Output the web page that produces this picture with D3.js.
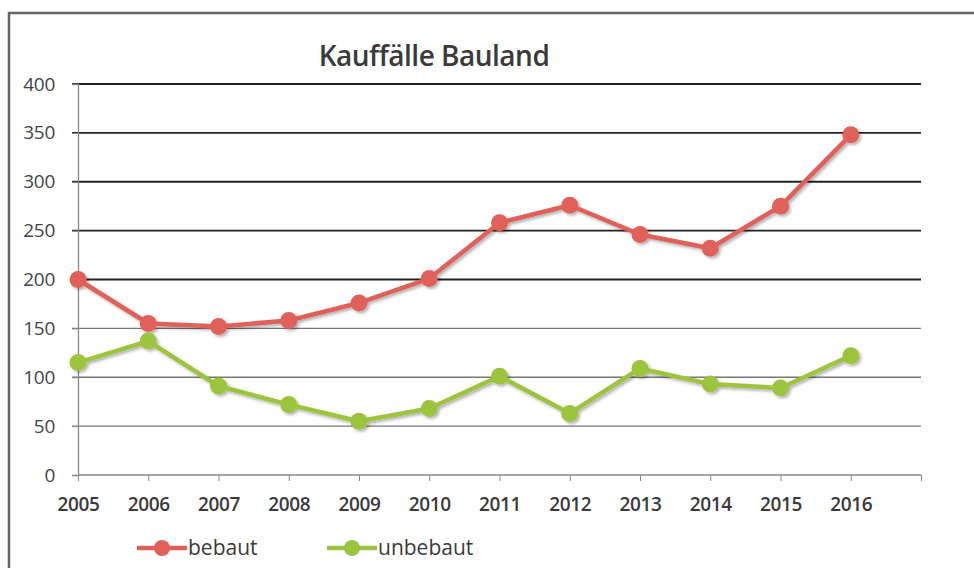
<!DOCTYPE html>
<html>
<head>
<meta charset="utf-8">
<script src="https://cdn.jsdelivr.net/npm/d3@7"></script>
<style>
  body { margin: 0; background: #fff; }
  svg { display: block; font-family: "Open Sans", "DejaVu Sans", sans-serif; }
</style>
</head>
<body>
<svg width="974" height="568"></svg>
<script>
var years = [2005, 2006, 2007, 2008, 2009, 2010, 2011, 2012, 2013, 2014, 2015, 2016];
var bebaut = [200, 155, 152, 158, 176, 201, 258, 276, 246, 232, 275, 348];
var unbebaut = [115, 137, 91, 72, 55, 68, 101, 63, 109, 93, 89, 122];
var yTicks = [0, 50, 100, 150, 200, 250, 300, 350, 400];
var seriesNames = ["bebaut", "unbebaut"];
var colors = ["#e0605a", "#9cc43e"];

var svg = d3.select("svg");
var margin = {top: 84, right: 53, bottom: 93, left: 78};
var width = svg.attr("width") - margin.left - margin.right;
var height = svg.attr("height") - margin.top - margin.bottom;

// frame of the scanned page
svg.append("path")
    .attr("d", "M9,568V13H974")
    .attr("fill", "none")
    .attr("stroke", "#666")
    .attr("stroke-width", 2.5);

svg.append("text")
    .attr("x", 434)
    .attr("y", 66)
    .attr("text-anchor", "middle")
    .style("font-size", "28px")
    .style("font-weight", 600)
    .style("fill", "#3a3a3a")
    .style("letter-spacing", "-0.5px")
    .text("Kauffälle Bauland");

var x = d3.scaleLinear()
    .domain([2005, 2017])
    .range([0, width]);
var y = d3.scaleLinear()
    .domain([0, 400])
    .range([height, 0]);

var g = svg.append("g")
    .attr("transform", "translate(" + margin.left + "," + margin.top + ")");

var defs = svg.append("defs");
var f = defs.append("filter").attr("id", "shadow").attr("x", "-20%").attr("y", "-20%").attr("width", "140%").attr("height", "140%");
f.append("feDropShadow").attr("dx", 2).attr("dy", 2).attr("stdDeviation", 1.5).attr("flood-color", "#000").attr("flood-opacity", 0.3);

// gridlines
g.append("g")
    .selectAll("line")
    .data(yTicks.filter(function(d) { return d > 0; }))
    .enter().append("line")
    .attr("x1", -6)
    .attr("x2", width)
    .attr("y1", function(d) { return y(d); })
    .attr("y2", function(d) { return y(d); })
    .attr("stroke", function(d) { return d >= 200 ? "#222" : "#777"; })
    .attr("stroke-width", function(d) { return d >= 200 ? 1.8 : 1.3; });

// y axis
var yAxis = g.append("g")
    .call(d3.axisLeft(y).tickValues(yTicks).tickSize(6).tickPadding(17));
yAxis.select(".domain").attr("stroke", "#888").attr("stroke-width", 1.3);
yAxis.selectAll(".tick line").attr("stroke", "#888");
yAxis.selectAll("text")
    .style("font-size", "19px")
    .style("fill", "#444")
    .style("font-family", "'Open Sans', sans-serif")
    .style("letter-spacing", "-0.3px");

// x axis
var xAxis = g.append("g")
    .attr("transform", "translate(0," + height + ")")
    .call(d3.axisBottom(x)
      .tickValues(d3.range(2005, 2018))
      .tickSize(6)
      .tickPadding(17)
      .tickFormat(function(d) { return years.indexOf(d) >= 0 ? d : ""; }));
xAxis.select(".domain").attr("stroke", "#888").attr("stroke-width", 1.3).attr("d", "M0,0H" + width);
xAxis.selectAll(".tick line").attr("stroke", "#888");
xAxis.selectAll("text")
    .style("font-size", "19px")
    .style("font-weight", 600)
    .style("fill", "#3a3a3a")
    .style("font-family", "'Open Sans', sans-serif")
    .style("letter-spacing", "-0.3px");

var line = d3.line()
    .x(function(d, i) { return x(years[i]); })
    .y(function(d) { return y(d); });

[bebaut, unbebaut].forEach(function(values, s) {
  var sg = g.append("g").attr("filter", "url(#shadow)");
  sg.append("path")
      .datum(values)
      .attr("d", line)
      .attr("fill", "none")
      .attr("stroke", colors[s])
      .attr("stroke-width", 4.5)
      .attr("stroke-linejoin", "round");
  sg.selectAll("circle")
      .data(values)
      .enter().append("circle")
      .attr("cx", function(d, i) { return x(years[i]); })
      .attr("cy", function(d) { return y(d); })
      .attr("r", 8.5)
      .attr("fill", colors[s]);
});

// legend
var legendX = [137, 327];
var legend = svg.append("g").attr("transform", "translate(0,548)");
seriesNames.forEach(function(name, s) {
  var lg = legend.append("g").attr("transform", "translate(" + legendX[s] + ",0)");
  lg.append("line")
      .attr("x1", 0).attr("x2", 50)
      .attr("stroke", colors[s]).attr("stroke-width", 4.5);
  lg.append("circle")
      .attr("cx", 25).attr("r", 8)
      .attr("fill", colors[s]);
  lg.append("text")
      .attr("x", 51)
      .attr("dy", "0.35em")
      .style("font-size", "21px")
      .style("fill", "#3a3a3a")
      .text(name);
});
</script>
</body>
</html>
